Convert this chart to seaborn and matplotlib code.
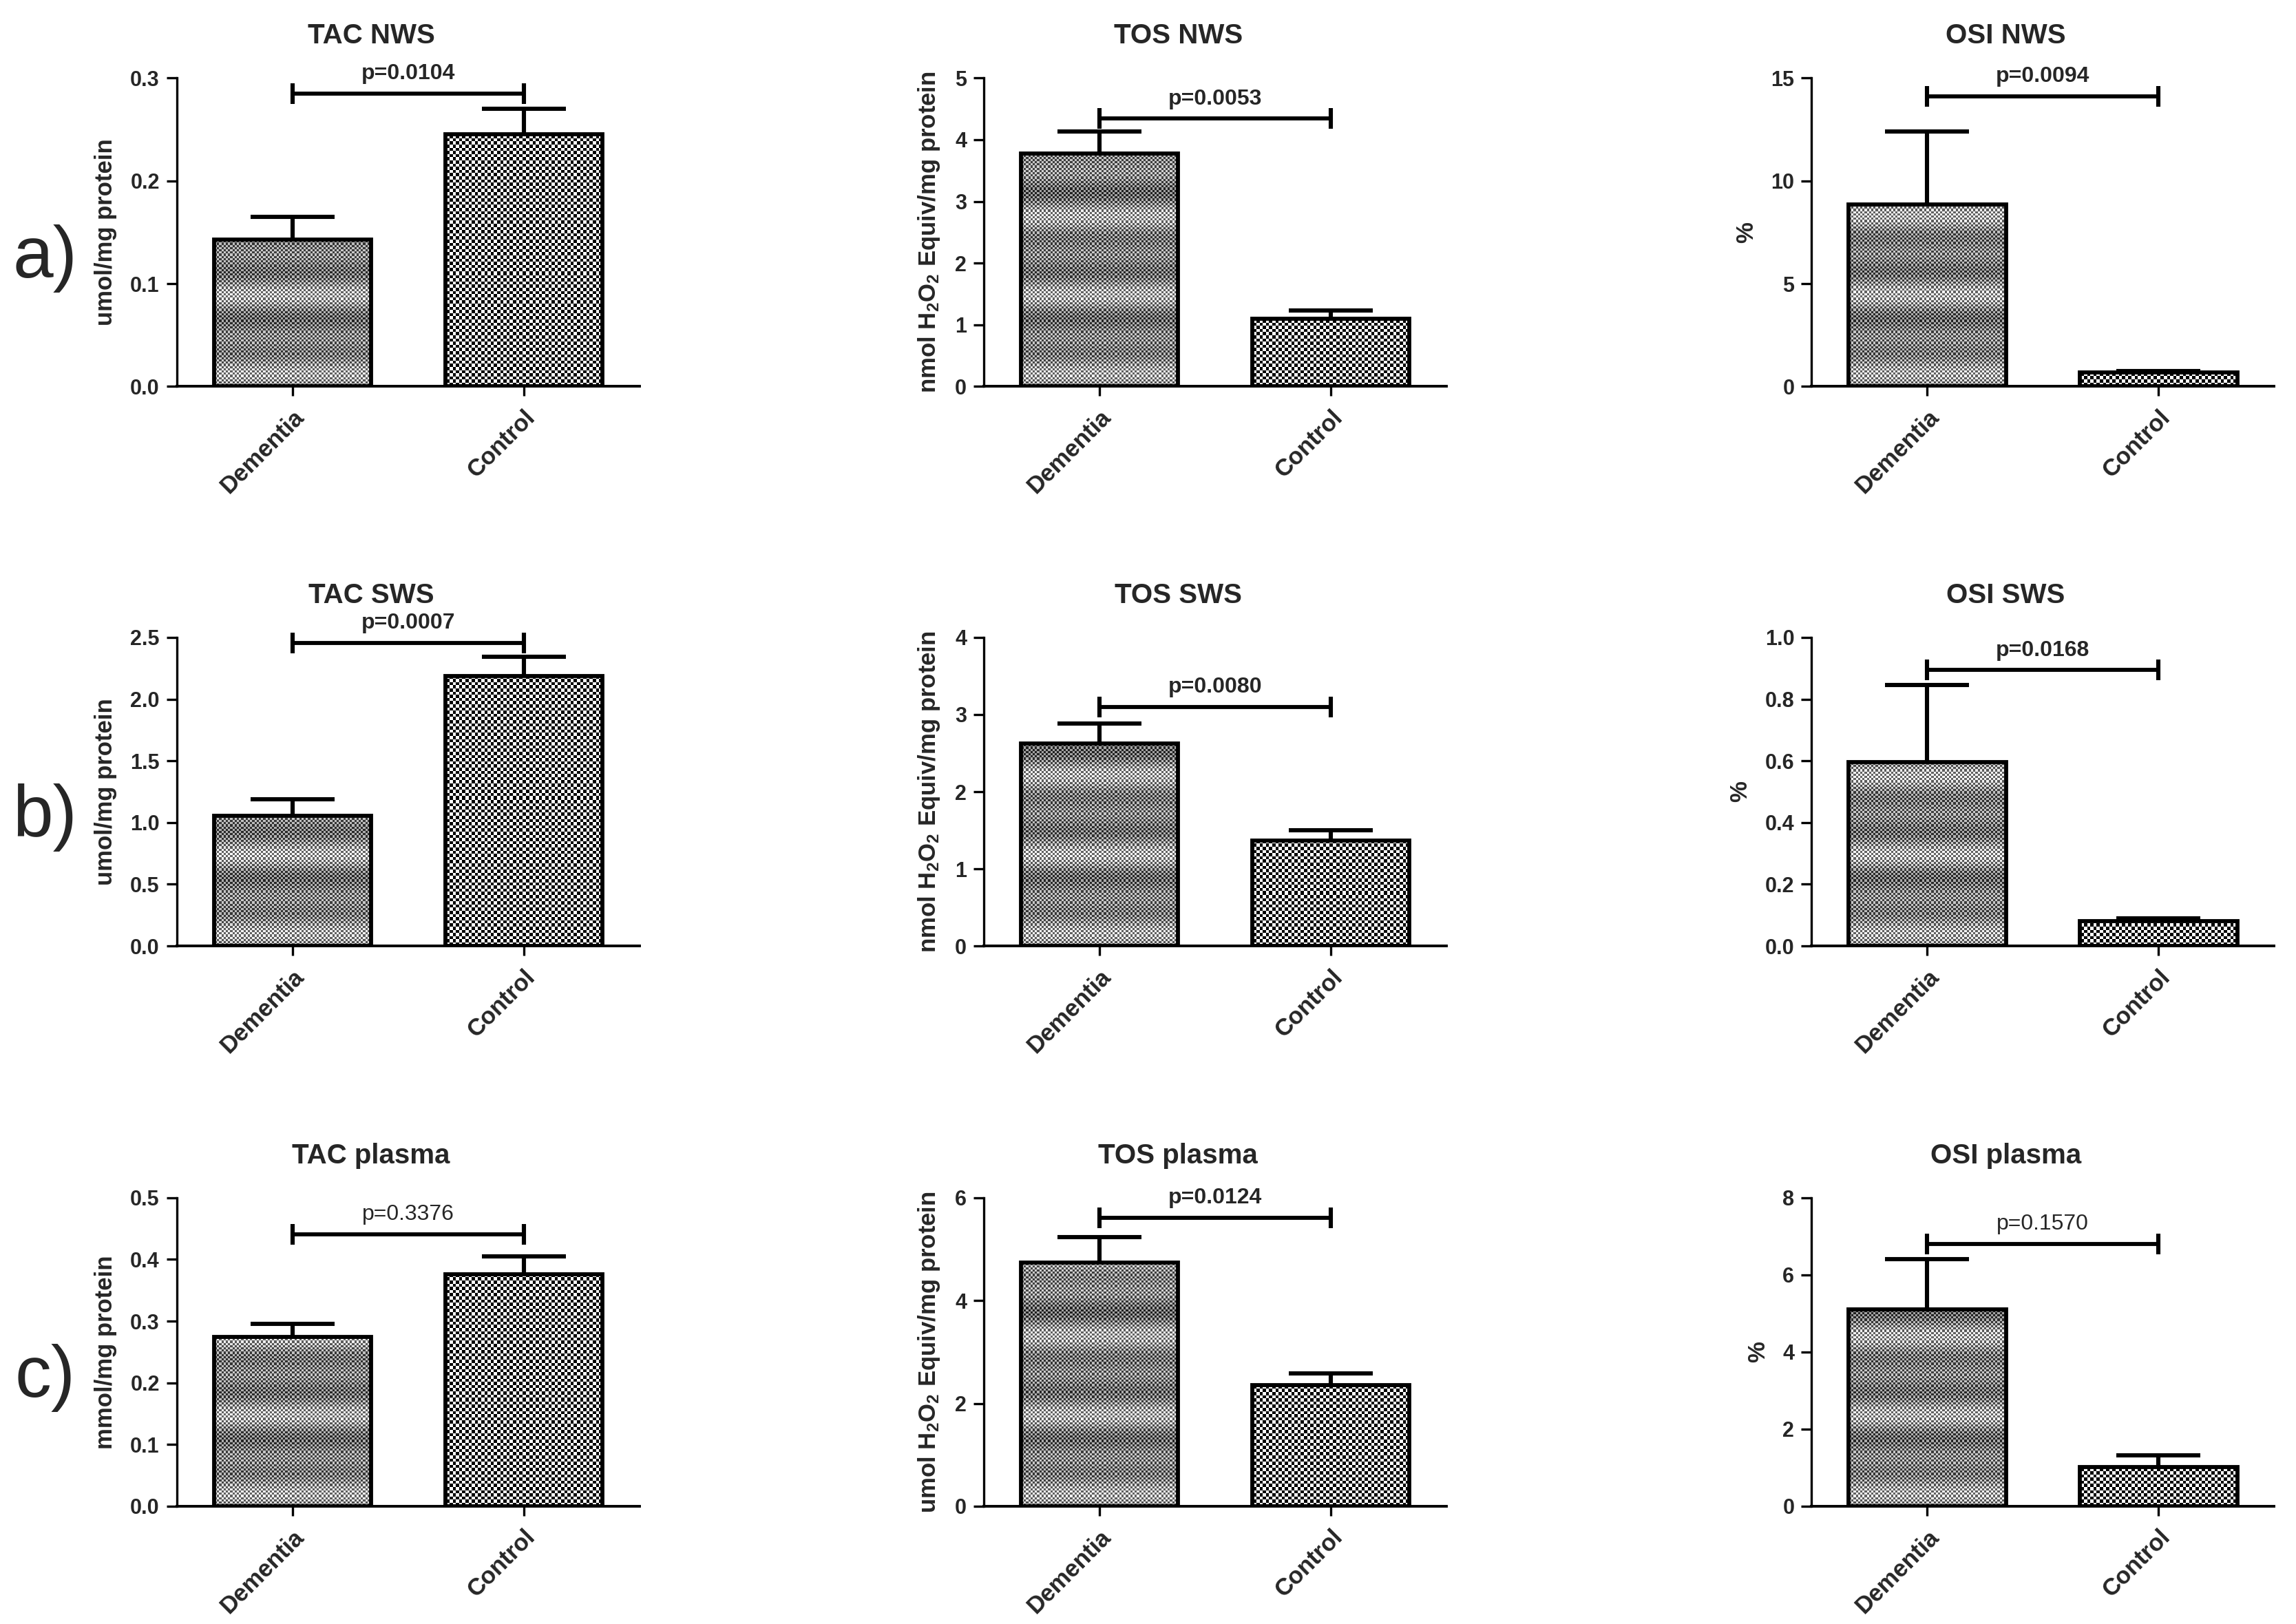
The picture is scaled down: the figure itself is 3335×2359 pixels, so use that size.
import numpy as np
import pandas as pd
import matplotlib
matplotlib.use("Agg")
import matplotlib.pyplot as plt
from matplotlib.ticker import FormatStrFormatter
import seaborn as sns

# groups and panel texts
groups = ["Dementia", "Control"]
titles = ["TAC NWS", "TOS NWS", "OSI NWS",
          "TAC SWS", "TOS SWS", "OSI SWS",
          "TAC plasma", "TOS plasma", "OSI plasma"]
ylabels = ["umol/mg protein", r"nmol $\mathrm{H_2O_2}$ Equiv/mg protein", "%",
           "umol/mg protein", r"nmol $\mathrm{H_2O_2}$ Equiv/mg protein", "%",
           "mmol/mg protein", r"umol $\mathrm{H_2O_2}$ Equiv/mg protein", "%"]
row_letters = ["a)", "b)", "c)"]

# means and SEM, Dementia / Control
tac_nws = [0.143, 0.245]
tac_nws_sem = [0.022, 0.025]
tos_nws = [3.77, 1.10]
tos_nws_sem = [0.36, 0.13]
osi_nws = [8.84, 0.67]
osi_nws_sem = [3.55, 0.08]
tac_sws = [1.054, 2.188]
tac_sws_sem = [0.133, 0.155]
tos_sws = [2.625, 1.366]
tos_sws_sem = [0.255, 0.134]
osi_sws = [0.595, 0.080]
osi_sws_sem = [0.25, 0.009]
tac_plasma = [0.274, 0.376]
tac_plasma_sem = [0.022, 0.029]
tos_plasma = [4.74, 2.355]
tos_plasma_sem = [0.50, 0.225]
osi_plasma = [5.10, 1.015]
osi_plasma_sem = [1.31, 0.30]

means = [tac_nws, tos_nws, osi_nws, tac_sws, tos_sws, osi_sws, tac_plasma, tos_plasma, osi_plasma]
sems = [tac_nws_sem, tos_nws_sem, osi_nws_sem, tac_sws_sem, tos_sws_sem, osi_sws_sem,
        tac_plasma_sem, tos_plasma_sem, osi_plasma_sem]

# p-values and the height of the comparison bracket
pvals = [0.0104, 0.0053, 0.0094, 0.0007, 0.0080, 0.0168, 0.3376, 0.0124, 0.1570]
bracket_y = [0.285, 4.34, 14.12, 2.455, 3.095, 0.894, 0.441, 5.61, 6.80]

# y axis range and tick step
ymax = [0.3, 5, 15, 2.5, 4, 1.0, 0.5, 6, 8]
ystep = [0.1, 1, 5, 0.5, 1, 0.2, 0.1, 2, 2]


def dementia_texture(h, w):
    # fine checker with soft horizontal banding
    yy, xx = np.mgrid[0:h, 0:w]
    chk = (yy // 3.2 + xx // 3.2) % 2
    band = 0.5 + 0.5 * np.sin(yy / 12.0) * np.cos(yy / 41.0)
    light = 0.6 + 0.38 * band
    dark = 0.1 + 0.3 * band
    return np.where(chk == 1, light, dark)


def control_texture(h, w):
    yy, xx = np.mgrid[0:h, 0:w]
    return ((yy // 4.6 + xx // 4.6) % 2).astype(float)


sns.set_style("ticks")
plt.rcParams["font.family"] = ["Liberation Sans", "DejaVu Sans"]
plt.rcParams["font.weight"] = "bold"
plt.rcParams["axes.titleweight"] = "bold"
plt.rcParams["axes.labelweight"] = "bold"
plt.rcParams["mathtext.fontset"] = "custom"
plt.rcParams["mathtext.rm"] = "Liberation Sans"

fig = plt.figure(figsize=(16.675, 11.795), dpi=200)

col_left = [0.077, 0.4285, 0.789]
row_bottom = [0.762, 0.4175, 0.0725]
ax_w, ax_h = 0.2015, 0.190

for i in range(9):
    r, c = divmod(i, 3)
    ax = fig.add_axes([col_left[c], row_bottom[r], ax_w, ax_h])
    df = pd.DataFrame({"group": groups, "value": means[i]})
    sns.barplot(data=df, x="group", y="value", order=groups, width=0.68,
                color="white", edgecolor="black", linewidth=2.1,
                errorbar=None, ax=ax)

    ax.set_xlim(-0.5, 1.5)
    ax.set_ylim(0, ymax[i])
    ax.set_yticks(np.arange(0, ymax[i] + ystep[i] / 2, ystep[i]))
    fmt = "%d" if float(ystep[i]).is_integer() else "%.1f"
    ax.yaxis.set_major_formatter(FormatStrFormatter(fmt))

    # textured bar fills
    bb = ax.get_window_extent()
    h, w = int(round(bb.height)), int(round(bb.width))
    ext = (*ax.get_xlim(), *ax.get_ylim())
    for bar, tex in zip(ax.patches, [dementia_texture, control_texture]):
        im = ax.imshow(tex(h, w), extent=ext, origin="lower", cmap="gray",
                       vmin=0, vmax=1, interpolation="nearest", aspect="auto", zorder=0.8)
        im.set_clip_path(bar)
        bar.set_facecolor("none")
        bar.set_zorder(2)
    ax.set_xlim(-0.5, 1.5)
    ax.set_ylim(0, ymax[i])

    # upper SEM bars only
    x = np.arange(len(groups))
    _, caps, _ = ax.errorbar(x, means[i], yerr=[np.zeros(len(groups)), sems[i]],
                             fmt="none", ecolor="black", elinewidth=2.2,
                             capsize=22, capthick=2.2, zorder=3)
    caps[0].set_visible(False)

    # comparison bracket with p-value
    yb = bracket_y[i]
    ax.plot([0, 1], [yb, yb], color="black", lw=2.1, marker="|",
            markersize=11, mew=2.2, clip_on=False, zorder=5)
    ax.annotate(f"p={pvals[i]:.4f}", xy=(0.5, yb), xytext=(0, 5),
                textcoords="offset points", ha="center", va="bottom",
                fontsize=11.5, fontweight="bold" if pvals[i] < 0.05 else "normal")

    ax.set_title(titles[i], x=0.42, pad=18, fontsize=14.5)
    ax.set_ylabel(ylabels[i], fontsize=12.5, labelpad=7)
    ax.set_xlabel("")
    ax.set_xticks(x)
    ax.set_xticklabels(groups, rotation=45, ha="right", rotation_mode="anchor", fontsize=12.5)
    ax.tick_params(axis="y", labelsize=11, width=1.2, length=5.5, color="black")
    ax.tick_params(axis="x", width=1.2, length=5, color="black", pad=5)

    sns.despine(ax=ax)
    ax.spines["left"].set_linewidth(1.2)
    ax.spines["bottom"].set_linewidth(1.4)
    for s in ["left", "bottom"]:
        ax.spines[s].set_color("black")

# row letters
for r, lab in enumerate(row_letters):
    fig.text(0.0195, row_bottom[r] + 0.079, lab, fontsize=38, fontweight="normal",
             ha="center", va="center")

fig.savefig("out.png", dpi=200, facecolor="white")
